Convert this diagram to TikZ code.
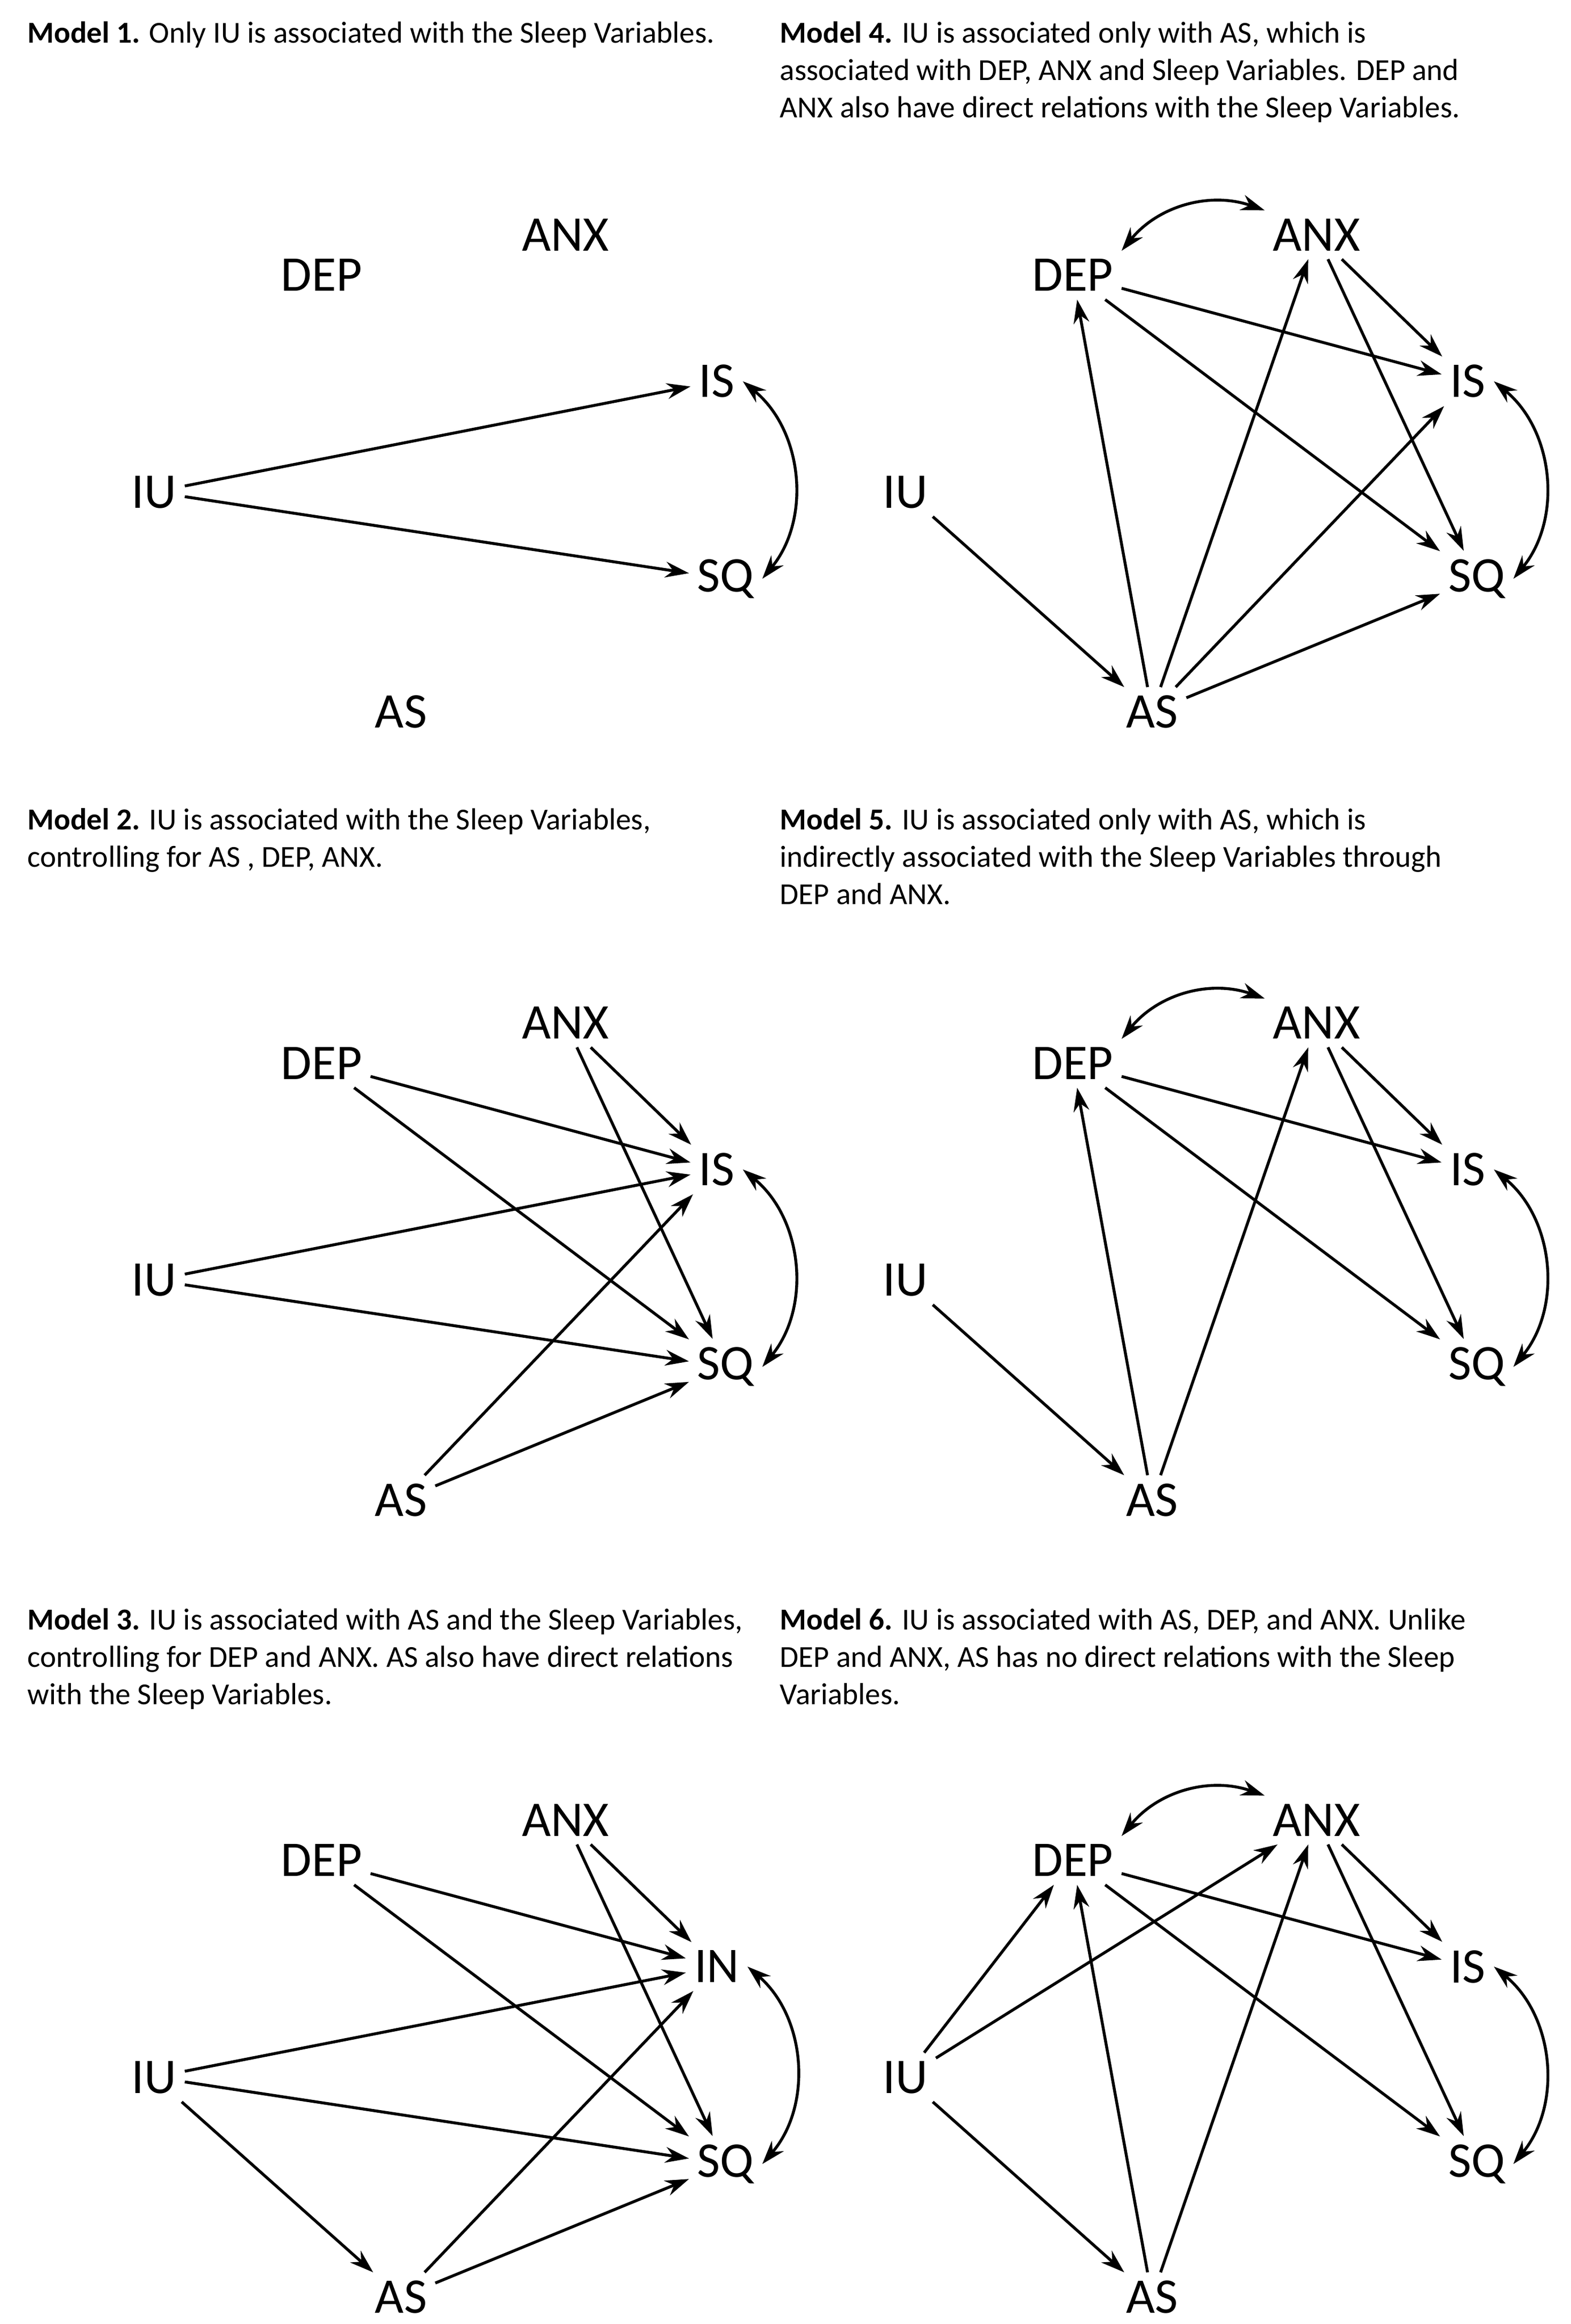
\documentclass[tikz,border=0pt]{standalone}
\usepackage{fontspec}
\setmainfont{Carlito}
\usetikzlibrary{arrows.meta}
\tikzset{
  var/.style={inner sep=3pt,font=\fontsize{19}{22}\selectfont},
  path/.style={-{Stealth[length=9pt,width=6pt]},line width=1.1pt},
  cov/.style={{Stealth[length=9pt,width=6pt]}-{Stealth[length=9pt,width=6pt]},line width=1.1pt},
  title/.style={anchor=north west,align=left,inner sep=0pt,font=\fontsize{11.6}{14.2}\selectfont}
}
\newcommand\placevars[4]{%
  \begin{scope}[shift={(#2,-#3)}]
    \node[var] (#1DEP) at (215,-184) {DEP};
    \node[var] (#1ANX) at (378,-157) {ANX};
    \node[var] (#1IS) at (479,-255) {#4};
    \node[var] (#1IU) at (103,-329) {IU};
    \node[var] (#1SQ) at (485,-387) {SQ};
    \node[var] (#1AS) at (268,-476) {AS};
  \end{scope}}
\begin{document}
\begin{tikzpicture}[x=0.02cm,y=0.02cm]
\useasboundingbox (0,0) rectangle (1050,-1554);
% titles
\node[title] (t1) at (18,-14) {\textbf{Model 1.} Only IU is associated with the Sleep Variables.};
\node[title] (t4) at (521,-14) {\textbf{Model 4.} IU is associated only with AS, which is\\associated with DEP, ANX and Sleep Variables. DEP and\\ANX also have direct relations with the Sleep Variables.};
\node[title] (t2) at (18,-540) {\textbf{Model 2.} IU is associated with the Sleep Variables,\\controlling for AS , DEP, ANX.};
\node[title] (t5) at (521,-540) {\textbf{Model 5.} IU is associated only with AS, which is\\indirectly associated with the Sleep Variables through\\DEP and ANX.};
\node[title] (t3) at (18,-1075) {\textbf{Model 3.} IU is associated with AS and the Sleep Variables,\\controlling for DEP and ANX. AS also have direct relations\\with the Sleep Variables.};
\node[title] (t6) at (521,-1075) {\textbf{Model 6.} IU is associated with AS, DEP, and ANX. Unlike\\DEP and ANX, AS has no direct relations with the Sleep\\Variables.};
% variables
\placevars{a}{0}{0}{IS}
\placevars{d}{502}{0}{IS}
\placevars{b}{0}{527}{IS}
\placevars{e}{502}{527}{IS}
\placevars{c}{0}{1060}{IN}
\placevars{f}{502}{1060}{IS}
% sleep covariances
\foreach \p in {a,b,c,d,e,f}
  \draw[cov] (\p IS.east) to[bend left=45] (\p SQ.east);
\foreach \p in {d,e,f}
  \draw[cov] (\p DEP.north east) to[bend left=35] (\p ANX.north west);
% model 1
\draw[path] (aIU) -- (aIS);
\draw[path] (aIU) -- (aSQ);
% models 2-6: DEP and ANX to sleep
\foreach \p in {b,c,d,e,f} {
  \draw[path] (\p DEP) -- (\p IS);
  \draw[path] (\p DEP) -- (\p SQ);
  \draw[path] (\p ANX) -- (\p IS);
  \draw[path] (\p ANX) -- (\p SQ);
}
% IU and AS to sleep (models 2, 3)
\foreach \p in {b,c} {
  \draw[path] (\p IU) -- (\p IS);
  \draw[path] (\p IU) -- (\p SQ);
  \draw[path] (\p AS) -- (\p IS);
  \draw[path] (\p AS) -- (\p SQ);
}
\draw[path] (cIU) -- (cAS);
% models 4-6: IU to AS, AS to DEP/ANX
\foreach \p in {d,e,f} {
  \draw[path] (\p IU) -- (\p AS);
  \draw[path] (\p AS) -- (\p DEP);
  \draw[path] (\p AS) -- (\p ANX);
}
\draw[path] (dAS) -- (dIS);
\draw[path] (dAS) -- (dSQ);
\draw[path] (fIU) -- (fDEP);
\draw[path] (fIU) -- (fANX);
\end{tikzpicture}
\end{document}
